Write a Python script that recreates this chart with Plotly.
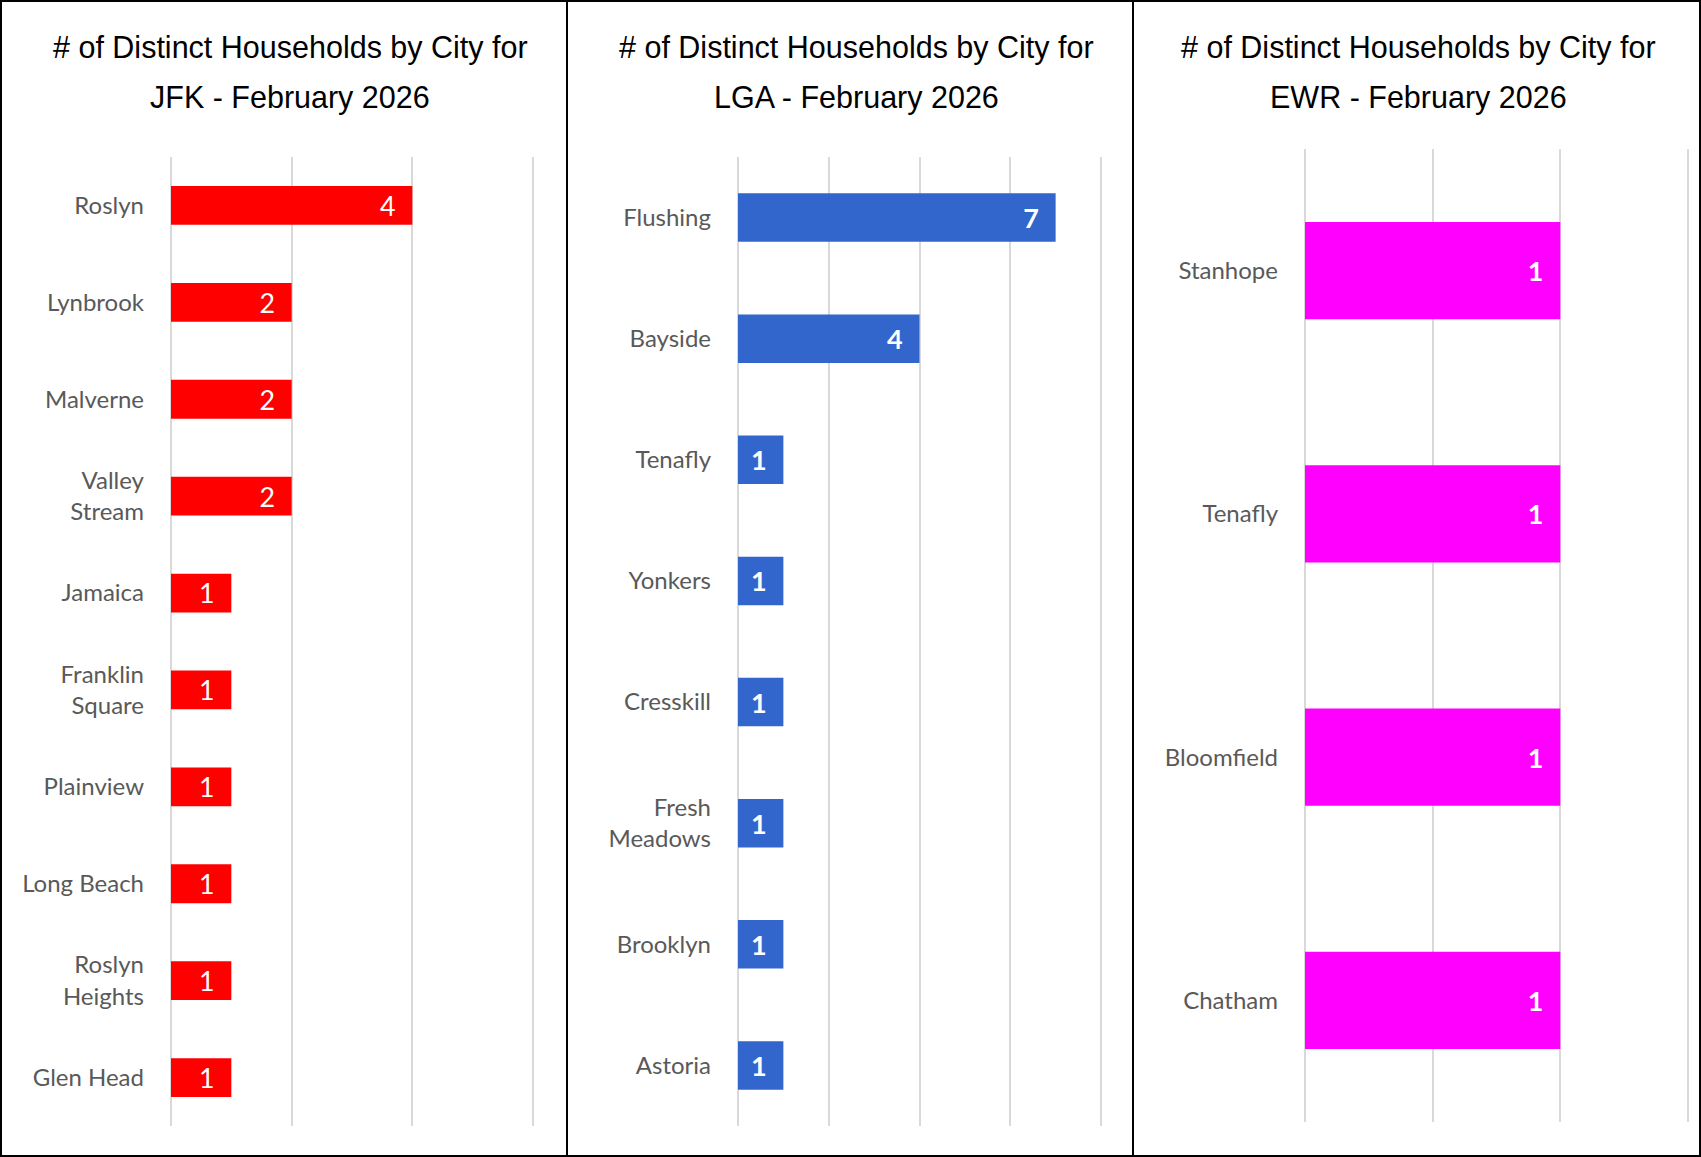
import plotly.graph_objects as go
from plotly.subplots import make_subplots

# data
jfk_cities = ["Roslyn", "Lynbrook", "Malverne", "Valley<br>Stream", "Jamaica",
              "Franklin<br>Square", "Plainview", "Long Beach", "Roslyn<br>Heights", "Glen Head"]
jfk_counts = [4, 2, 2, 2, 1, 1, 1, 1, 1, 1]

lga_cities = ["Flushing", "Bayside", "Tenafly", "Yonkers", "Cresskill",
              "Fresh<br>Meadows", "Brooklyn", "Astoria"]
lga_counts = [7, 4, 1, 1, 1, 1, 1, 1]

ewr_cities = ["Stanhope", "Tenafly", "Bloomfield", "Chatham"]
ewr_counts = [1, 1, 1, 1]

airports = ["JFK", "LGA", "EWR"]
month = "February 2026"

W, H = 1701, 1157

def px_x(v):
    return v / W

def px_y(v):
    return 1 - v / H

panels = [
    # cities, counts, color, bold label, axis max, dtick, plot box (px), title center
    (jfk_cities, jfk_counts, "#FF0000", False, 6, 2, (171, 533, 157, 1126), 290),
    (lga_cities, lga_counts, "#3366CC", True, 8, 2, (738, 1101, 157, 1126), 856),
    (ewr_cities, ewr_counts, "#FF00FF", True, 1.5, 0.5, (1305, 1688, 149, 1122), 1418),
]

fig = make_subplots(rows=1, cols=3)

label_font = "Lato, 'Noto Sans', sans-serif"
title_font = "'Liberation Sans', Arial, sans-serif"

# stretch each axis a hair past its last gridline so that gridline gets drawn
ext = 1.01

for i, (cities, counts, color, bold, xmax, dt, box, tcx) in enumerate(panels, start=1):
    tmpl = "<b>%{x}</b>\u00a0\u00a0" if bold else "%{x}\u00a0\u00a0"
    fig.add_trace(go.Bar(
        x=counts, y=cities, orientation="h",
        marker=dict(color=color, line=dict(width=0)),
        texttemplate=tmpl, textposition="inside", insidetextanchor="end",
        textfont=dict(color="white", size=27, family=label_font),
        textangle=0, cliponaxis=False, showlegend=False,
    ), row=1, col=i)
    x0, x1, y0, y1 = box
    x1 = x0 + (x1 - x0) * ext
    fig.update_xaxes(domain=[px_x(x0), px_x(x1)], range=[0, xmax * ext], dtick=dt,
                     showticklabels=False, showgrid=True, gridcolor="#D9D9D9", gridwidth=1.5,
                     zeroline=True, zerolinecolor="#D9D9D9", zerolinewidth=1.5,
                     showline=False, fixedrange=True, row=1, col=i)
    fig.update_yaxes(domain=[px_y(y1), px_y(y0)], autorange="reversed",
                     showgrid=False, zeroline=False, showline=False,
                     ticks="", ticklabelstandoff=26,
                     tickfont=dict(size=24, color="#595959", family=label_font),
                     row=1, col=i)
    ap = airports[i - 1]
    fig.add_annotation(x=px_x(tcx), y=px_y(48), xref="paper", yref="paper",
                       xanchor="center", yanchor="middle",
                       text="# of Distinct Households by City for", showarrow=False,
                       font=dict(size=30.5, color="black", family=title_font))
    fig.add_annotation(x=px_x(tcx), y=px_y(97), xref="paper", yref="paper",
                       xanchor="center", yanchor="middle",
                       text=f"{ap} - {month}", showarrow=False,
                       font=dict(size=30.5, color="black", family=title_font))

# panel borders
line = dict(color="black", width=2)
fig.add_shape(type="rect", xref="paper", yref="paper", x0=px_x(1), x1=px_x(1700), y0=px_y(1156), y1=px_y(1), line=line)
fig.add_shape(type="line", xref="paper", yref="paper", x0=px_x(567), x1=px_x(567), y0=0, y1=1, line=line)
fig.add_shape(type="line", xref="paper", yref="paper", x0=px_x(1133), x1=px_x(1133), y0=0, y1=1, line=line)

fig.update_layout(
    width=W, height=H,
    margin=dict(l=0, r=0, t=0, b=0),
    paper_bgcolor="white", plot_bgcolor="white",
    bargap=0.6,
)

# drop the default body margin so the figure sits at the page corner
fig.write_html("out.html", config={"displayModeBar": False},
               post_script="document.body.style.margin='0';")
